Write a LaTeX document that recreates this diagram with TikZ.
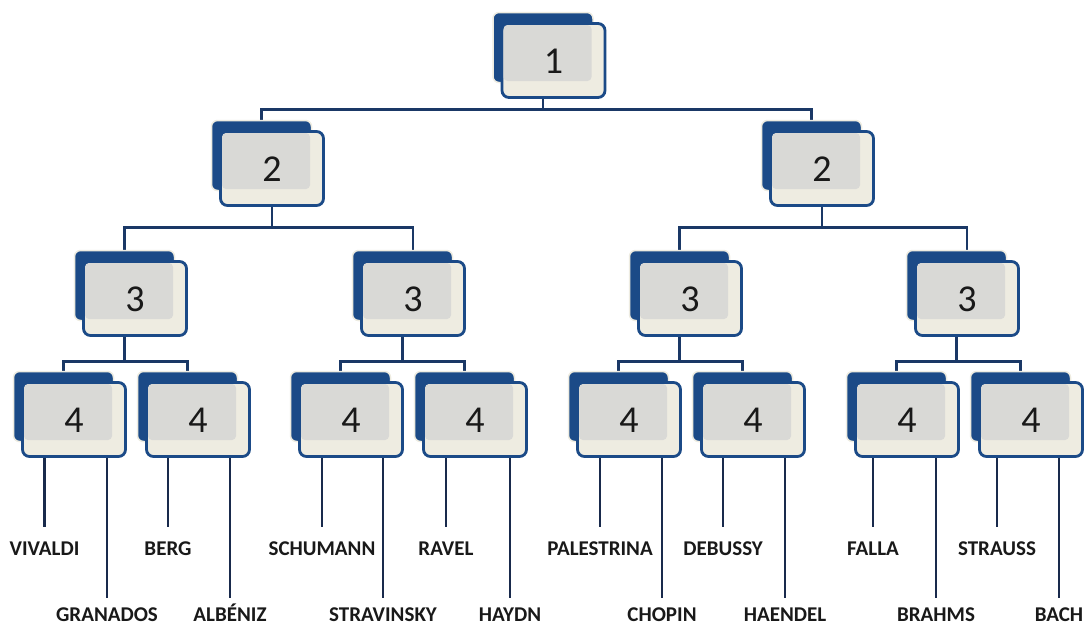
\documentclass[tikz,border=0pt]{standalone}
\usepackage{fontspec}
\setmainfont{Carlito}
\usetikzlibrary{calc,backgrounds}
\definecolor{boxblue}{RGB}{27,74,135}
\definecolor{cream}{RGB}{238,236,225}
\definecolor{overlap}{RGB}{217,217,214}
\definecolor{linkblue}{RGB}{26,56,102}
\definecolor{leafblue}{RGB}{25,42,76}
\definecolor{txt}{RGB}{25,25,25}
\tikzset{
 backbox/.style={draw=cream, line width=1.5pt, fill=boxblue, rounded corners=6pt, minimum width=100pt, minimum height=70pt, inner sep=0pt},
 frontbox/.style={draw=boxblue, line width=2.8pt, fill=cream, rounded corners=7pt, minimum width=103pt, minimum height=74pt, inner sep=0pt},
 overlapbox/.style={fill=overlap, rounded corners=4pt, minimum width=88pt, minimum height=56pt, inner sep=0pt},
 num/.style={font=\fontsize{38}{38}\selectfont, text=txt, inner sep=0pt},
 link/.style={draw=linkblue, line width=2.8pt},
 leafline/.style={draw=leafblue, line width=2.8pt},
 lbl/.style={font=\bfseries\fontsize{21}{21}\selectfont, text=txt, inner sep=0pt, text height=13pt, text depth=0pt, anchor=north},
}
\newcommand\orgbox[4]{%
 \node[backbox] (#1b) at (#2-10.5, #3-13) {};
 \node[frontbox] (#1) at (#2,#3) {};
 \node[overlapbox] (#1s) at (#2-6, #3-7.5) {};
 \node[num] (#1t) at (#2, #3+1) {#4};
}
\begin{document}
\begin{tikzpicture}[x=1pt,y=-1pt]
\useasboundingbox (0,0) rectangle (1084,625);
% boxes
\orgbox{a}{553.5}{60.5}{1}
\orgbox{bA}{272}{168.5}{2}
\orgbox{bB}{822}{168.5}{2}
\orgbox{cA}{135}{298.5}{3}
\orgbox{cB}{413}{298.5}{3}
\orgbox{cC}{690}{298.5}{3}
\orgbox{cD}{967}{298.5}{3}
\orgbox{dA}{74}{419.5}{4}
\orgbox{dB}{198}{419.5}{4}
\orgbox{dC}{351}{419.5}{4}
\orgbox{dD}{475}{419.5}{4}
\orgbox{dE}{629}{419.5}{4}
\orgbox{dF}{753}{419.5}{4}
\orgbox{dG}{907}{419.5}{4}
\orgbox{dH}{1031}{419.5}{4}
% leaf labels
\node[lbl] (lA) at (44.5,542) {VIVALDI};
\node[lbl] (lB) at (107,608) {GRANADOS};
\node[lbl] (lC) at (168,542) {BERG};
\node[lbl] (lD) at (230,608) {ALBÉNIZ};
\node[lbl] (lE) at (322,542) {SCHUMANN};
\node[lbl] (lF) at (383,608) {STRAVINSKY};
\node[lbl] (lG) at (446,542) {RAVEL};
\node[lbl] (lH) at (510,608) {HAYDN};
\node[lbl] (lI) at (600,542) {PALESTRINA};
\node[lbl] (lJ) at (662,608) {CHOPIN};
\node[lbl] (lK) at (723,542) {DEBUSSY};
\node[lbl] (lL) at (785,608) {HAENDEL};
\node[lbl] (lM) at (873,542) {FALLA};
\node[lbl] (lN) at (936,608) {BRAHMS};
\node[lbl] (lO) at (997,542) {STRAUSS};
\node[lbl] (lP) at (1059,608) {BACH};
\begin{scope}[on background layer]
\fill[white] (0,0) rectangle (1084,625);
% level 1 -> 2
\path (ab |- a.south) ++(0,10.5) coordinate (ja);
\draw[link] (ab |- a.south) -- (ja);
\draw[link] (ja) -| (bAb.north);
\draw[link] (ja) -| (bBb.north);
% level 2 -> 3
\path (bA.south) ++(0,20.5) coordinate (jbA);
\draw[link] (bA.south) -- (jbA);
\draw[link] (jbA) -| (cAb.north);
\draw[link] (jbA) -| (cBb.north -| cB.north);
\path (bB.south) ++(0,20.5) coordinate (jbB);
\draw[link] (bB.south) -- (jbB);
\draw[link] (jbB) -| (cCb.north);
\draw[link] (jbB) -| (cDb.north -| cD.north);
% level 3 -> 4
\foreach \p/\l/\r in {cA/dA/dB, cB/dC/dD, cC/dE/dF, cD/dG/dH}{
  \path (\p b |- \p.south) ++(0,24.5) coordinate (j\p);
  \draw[link] (\p b |- \p.south) -- (j\p);
  \draw[link] (j\p) -| (\l b.north);
  \draw[link] (j\p) -| (\r b.north);
}
% leaves
\foreach \b/\s/\t in {dA/lA/lB, dB/lC/lD, dC/lE/lF, dD/lG/lH, dE/lI/lJ, dF/lK/lL, dG/lM/lN, dH/lO/lP}{
  \draw[leafline, shorten >=15pt] (\b.south -| \s.north) -- (\s.north);
  \draw[leafline, shorten >=10pt] (\b.south -| \t.north) -- (\t.north);
}
\end{scope}
\end{tikzpicture}
\end{document}
